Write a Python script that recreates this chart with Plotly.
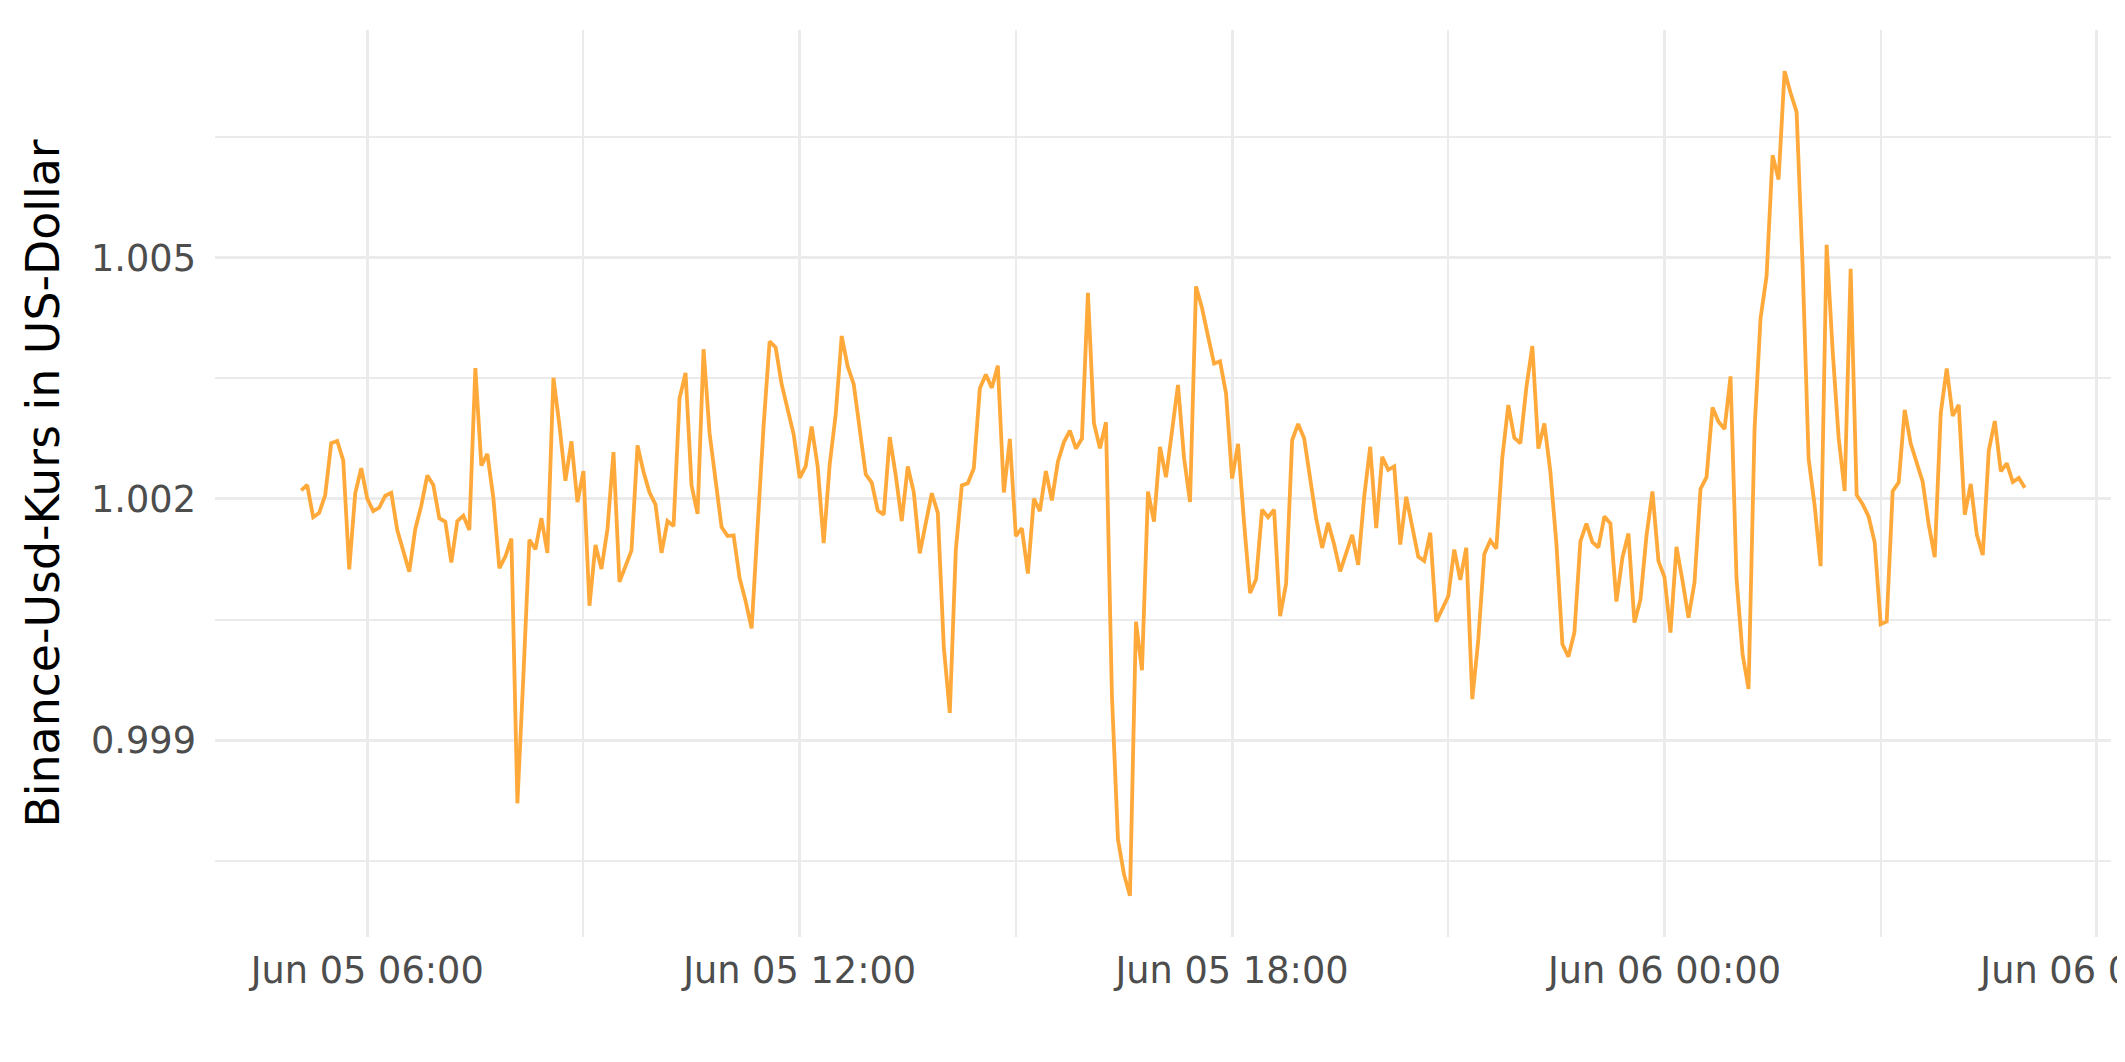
import pandas as pd
import plotly.graph_objects as go

# 5-minute observations, Jun 05 05:05 -> Jun 06 05:00
start_time = "2023-06-05 05:05"
end_time = "2023-06-06 05:00"

price = [
    1.002107, 1.002173, 1.001773, 1.001827, 1.002049, 1.002693, 1.002720, 1.002480, 1.001124, 1.002071,
    1.002382, 1.002004, 1.001849, 1.001893, 1.002040, 1.002076, 1.001613, 1.001360, 1.001093, 1.001627,
    1.001916, 1.002293, 1.002173, 1.001760, 1.001716, 1.001209, 1.001724, 1.001791, 1.001613, 1.003627,
    1.002413, 1.002560, 1.002013, 1.001138, 1.001284, 1.001507, 0.998213, 0.999800, 1.001493, 1.001373,
    1.001760, 1.001329, 1.003507, 1.002916, 1.002227, 1.002716, 1.001960, 1.002347, 1.000671, 1.001427,
    1.001129, 1.001627, 1.002582, 1.000969, 1.001173, 1.001360, 1.002667, 1.002338, 1.002080, 1.001929,
    1.001329, 1.001724, 1.001662, 1.003249, 1.003569, 1.002169, 1.001813, 1.003862, 1.002818, 1.002204,
    1.001649, 1.001538, 1.001547, 1.001018, 1.000729, 1.000391, 1.001716, 1.002916, 1.003960, 1.003884,
    1.003427, 1.003093, 1.002804, 1.002262, 1.002404, 1.002902, 1.002404, 1.001449, 1.002427, 1.003049,
    1.004027, 1.003649, 1.003427, 1.002871, 1.002307, 1.002204, 1.001858, 1.001804, 1.002769, 1.002293,
    1.001724, 1.002404, 1.002084, 1.001324, 1.001693, 1.002071, 1.001827, 1.000160, 0.999338, 1.001360,
    1.002169, 1.002196, 1.002382, 1.003373, 1.003547, 1.003382, 1.003658, 1.002080, 1.002747, 1.001538,
    1.001636, 1.001071, 1.002004, 1.001849, 1.002347, 1.001982, 1.002462, 1.002707, 1.002849, 1.002627,
    1.002751, 1.004563, 1.002944, 1.002631, 1.002955, 0.999545, 0.997764, 0.997332, 0.997063, 1.000473,
    0.999869, 1.002092, 1.001719, 1.002648, 1.002270, 1.002836, 1.003419, 1.002513, 1.001962, 1.004644,
    1.004374, 1.004024, 1.003684, 1.003711, 1.003311, 1.002254, 1.002685, 1.001703, 1.000829, 1.001002,
    1.001865, 1.001773, 1.001865, 1.000543, 1.000948, 1.002728, 1.002934, 1.002755, 1.002216, 1.001757,
    1.001390, 1.001703, 1.001433, 1.001099, 1.001325, 1.001552, 1.001180, 1.002027, 1.002648, 1.001638,
    1.002523, 1.002362, 1.002405, 1.001433, 1.002027, 1.001649, 1.001282, 1.001228, 1.001579, 1.000473,
    1.000624, 1.000790, 1.001370, 1.000993, 1.001393, 0.999510, 1.000249, 1.001316, 1.001484, 1.001382,
    1.002516, 1.003169, 1.002760, 1.002693, 1.003382, 1.003902, 1.002627, 1.002938, 1.002338, 1.001449,
    1.000196, 1.000036, 1.000338, 1.001471, 1.001693, 1.001462, 1.001396, 1.001782, 1.001693, 1.000724,
    1.001271, 1.001569, 1.000462, 1.000747, 1.001538, 1.002093, 1.001227, 1.001027, 1.000338, 1.001404,
    1.000982, 1.000524, 1.000960, 1.002124, 1.002271, 1.003138, 1.002960, 1.002871, 1.003524, 1.001004,
    1.000071, 0.999636, 1.002871, 1.004250, 1.004772, 1.006276, 1.005974, 1.007321, 1.007050, 1.006815,
    1.004900, 1.002500, 1.001920, 1.001164, 1.005162, 1.003844, 1.002762, 1.002098, 1.004862, 1.002049,
    1.001936, 1.001779, 1.001459, 1.000441, 1.000475, 1.002098, 1.002207, 1.003107, 1.002689, 1.002443,
    1.002211, 1.001680, 1.001277, 1.003067, 1.003623, 1.003033, 1.003171, 1.001803, 1.002187, 1.001557,
    1.001302, 1.002600, 1.002969, 1.002344, 1.002443, 1.002211, 1.002261, 1.002138,
]

y_title = "Binance-Usd-Kurs in US-Dollar"
y_tick_values = [0.999, 1.002, 1.005]

times = pd.date_range(start_time, end_time, freq="5min")
assert len(times) == len(price)

# ggplot-like 5% expansion of the data ranges
t0, t1 = times[0], times[-1]
tspan = t1 - t0
x_range = [t0 - 0.05 * tspan, t1 + 0.05 * tspan]
ymin, ymax = min(price), max(price)
yspan = ymax - ymin
y_range = [ymin - 0.05 * yspan, ymax + 0.05 * yspan]

GRID = "#EBEBEB"
HOUR_MS = 3600 * 1000

fig = go.Figure()
fig.add_trace(go.Scatter(
    x=times, y=price, mode="lines",
    line=dict(color="#FFA93A", width=3.8),
    hoverinfo="skip",
))

fig.update_layout(
    width=2125, height=1062,
    margin=dict(l=207, r=22, t=22, b=133, autoexpand=False),
    plot_bgcolor="white", paper_bgcolor="white",
    showlegend=False,
    font=dict(family="DejaVu Sans", color="#4D4D4D"),
)

fig.update_xaxes(
    type="date", range=x_range,
    tick0="2023-06-05 00:00", dtick=6 * HOUR_MS,
    tickformat="%b %d %H:%M",
    showgrid=True, gridcolor=GRID, gridwidth=3,
    minor=dict(tick0="2023-06-05 00:00", dtick=3 * HOUR_MS,
               showgrid=True, gridcolor=GRID, gridwidth=1.6),
    ticks="", showline=False, zeroline=False,
    tickfont=dict(size=36.7, color="#4D4D4D", family="DejaVu Sans"),
    ticklabelstandoff=8,
    ticklabeloverflow="allow",
    automargin=False,
)

fig.update_yaxes(
    range=y_range,
    tickmode="array", tickvals=y_tick_values,
    ticktext=[f"{v:.3f}" for v in y_tick_values],
    showgrid=True, gridcolor=GRID, gridwidth=3,
    minor=dict(tick0=0.999, dtick=0.0015, showgrid=True,
               gridcolor=GRID, gridwidth=1.6),
    ticks="", showline=False, zeroline=False,
    tickfont=dict(size=36.7, color="#4D4D4D", family="DejaVu Sans"),
    ticklabelstandoff=18,
    automargin=False,
    title=dict(text=y_title, standoff=16,
               font=dict(size=45.8, color="black", family="DejaVu Sans")),
)

fig.write_html("out.html")
